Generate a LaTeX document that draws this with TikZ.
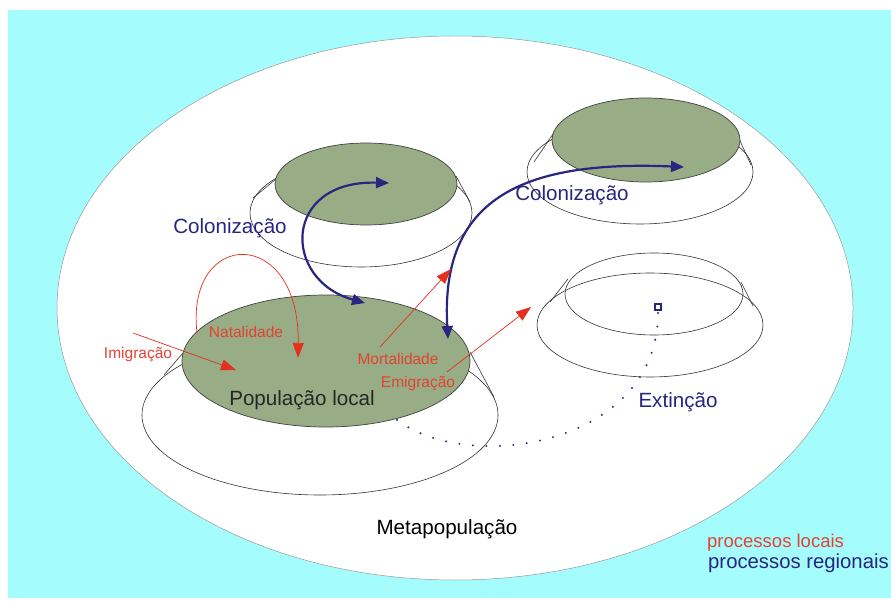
\documentclass[tikz,border=0pt]{standalone}
\usepackage{fontspec}
\setmainfont{Liberation Sans}
\usetikzlibrary{arrows.meta,shapes.geometric}
\definecolor{cyanbg}{RGB}{165,252,252}
\definecolor{popgreen}{RGB}{152,173,133}
\definecolor{navy}{RGB}{40,38,128}
\definecolor{redp}{RGB}{228,48,32}
\definecolor{redt}{RGB}{226,66,50}
\begin{document}
\begin{tikzpicture}[x=1pt,y=-1pt,
  basee/.style={ellipse,draw=black!80,line width=0.6pt,fill=white,inner sep=0pt},
  tope/.style={ellipse,draw=black!75,line width=0.7pt,fill=popgreen,inner sep=0pt},
  emptye/.style={ellipse,draw=black!80,line width=0.6pt,inner sep=0pt},
  sideln/.style={draw=black!80,line width=0.6pt},
  navyarrow/.style={draw=navy,line width=2.2pt,{Triangle[length=13pt,width=11pt]}-{Triangle[length=13pt,width=11pt]}},
  redarrow/.style={draw=redp,line width=0.7pt,-{Triangle[length=15pt,width=11pt]}},
  dotsty/.style={draw=navy,line width=2.2pt,line cap=round,dash pattern=on 0pt off 13.5pt},
  bigtxt/.style={font=\fontsize{20.6}{24}\selectfont,inner sep=0pt},
  redtxt/.style={font=\fontsize{15.5}{18}\selectfont,text=redt,inner sep=0pt},
  legtxt/.style={inner sep=0pt,anchor=west}]
\useasboundingbox (0,0) rectangle (891,601);
\fill[white] (0,0) rectangle (891,601);
\fill[cyanbg] (8,10) rectangle (891,598);
% metapopulation
\node[ellipse,draw=black!40,line width=0.5pt,fill=white,minimum width=796pt,minimum height=544pt,inner sep=0pt] (meta) at (455,308) {};
% hill 2 (top middle)
\node[basee,minimum width=222pt,minimum height=108pt] (h2b) at (361,213) {};
\coordinate (h2l1) at (276,179); \coordinate (h2l2) at (253,198);
\coordinate (h2r1) at (456,176); \coordinate (h2r2) at (470,202);
\draw[sideln] (h2l1) -- (h2l2); \draw[sideln] (h2r1) -- (h2r2);
\node[tope,minimum width=182pt,minimum height=82pt] (h2t) at (366,184) {};
% hill 3 (top right)
\node[basee,minimum width=226pt,minimum height=104pt] (h3b) at (640,172) {};
\coordinate (h3l1) at (553,134); \coordinate (h3l2) at (534,162);
\coordinate (h3r1) at (736,132); \coordinate (h3r2) at (751,165);
\draw[sideln] (h3l1) -- (h3l2); \draw[sideln] (h3r1) -- (h3r2);
\node[tope,minimum width=188pt,minimum height=84pt] (h3t) at (646,140) {};
% hill 4 (extinct)
\node[basee,minimum width=226pt,minimum height=104pt] (h4b) at (650,325) {};
\node[emptye,minimum width=178pt,minimum height=82pt] (h4t) at (654,294) {};
\coordinate (h4l1) at (568,279); \coordinate (h4l2) at (550,302);
\coordinate (h4r1) at (741,282); \coordinate (h4r2) at (753,306);
\draw[sideln] (h4l1) -- (h4l2); \draw[sideln] (h4r1) -- (h4r2);
\node[draw=navy,line width=1.6pt,minimum size=6.5pt,inner sep=0pt] (sq) at (658,307) {};
% hill 1 (population local)
\node[basee,minimum width=356pt,minimum height=160pt] (h1b) at (320,415) {};
\coordinate (h1l1) at (183,353); \coordinate (h1l2) at (164,375);
\coordinate (h1r1) at (470,352); \coordinate (h1r2) at (494,397);
\draw[sideln] (h1l1) -- (h1l2); \draw[sideln] (h1r1) -- (h1r2);
\node[tope,minimum width=288pt,minimum height=132pt] (h1t) at (326,361) {};
% dotted extinction path
\coordinate (d0) at (397,420);
\draw[dotsty] (d0) .. controls (470,475) and (660,445) .. (sq.south);
% navy colonisation arrows
\coordinate (c1a) at (365,303); \coordinate (c1b) at (389,183);
\draw[navyarrow] (c1a) .. controls (282,280) and (282,180) .. (c1b);
\coordinate (c2a) at (448,339); \coordinate (c2b) at (684,167);
\draw[navyarrow] (c2a) .. controls (440,200) and (520,160) .. (c2b);
% red local processes
\coordinate (im0) at (133,333); \coordinate (im1) at (236,370);
\draw[redarrow] (im0) -- (im1);
\coordinate (na0) at (197,333); \coordinate (na1) at (298,358);
\draw[redarrow] (na0) .. controls (185,228) and (300,225) .. (na1);
\coordinate (mo0) at (380,347); \coordinate (mo1) at (451,269);
\draw[redarrow] (mo0) -- (mo1);
\coordinate (em0) at (447,372); \coordinate (em1) at (531,307);
\draw[redarrow] (em0) -- (em1);
% labels
\node[bigtxt,text=navy] (lc1) at (230,228) {Colonização};
\node[bigtxt,text=navy] (lc2) at (572,195) {Colonização};
\node[bigtxt,text=black!85] (lpl) at (302,400) {População local};
\node[bigtxt,text=navy] (lex) at (678,402) {Extinção};
\node[bigtxt,text=black] (lmeta) at (447,529) {Metapopulação};
\node[redtxt] (lna) at (246,332) {Natalidade};
\node[redtxt] (lmo) at (398,359) {Mortalidade};
\node[redtxt] (lem) at (418,384) {Emigração};
\node[redtxt] (lim) at (138,355) {Imigração};
\node[legtxt,text=redt,font=\fontsize{18.5}{21}\selectfont] (leg1) at (707,543) {processos locais};
\node[legtxt,text=navy,font=\fontsize{20.3}{23}\selectfont] (leg2) at (708,563) {processos regionais};
\end{tikzpicture}
\end{document}
